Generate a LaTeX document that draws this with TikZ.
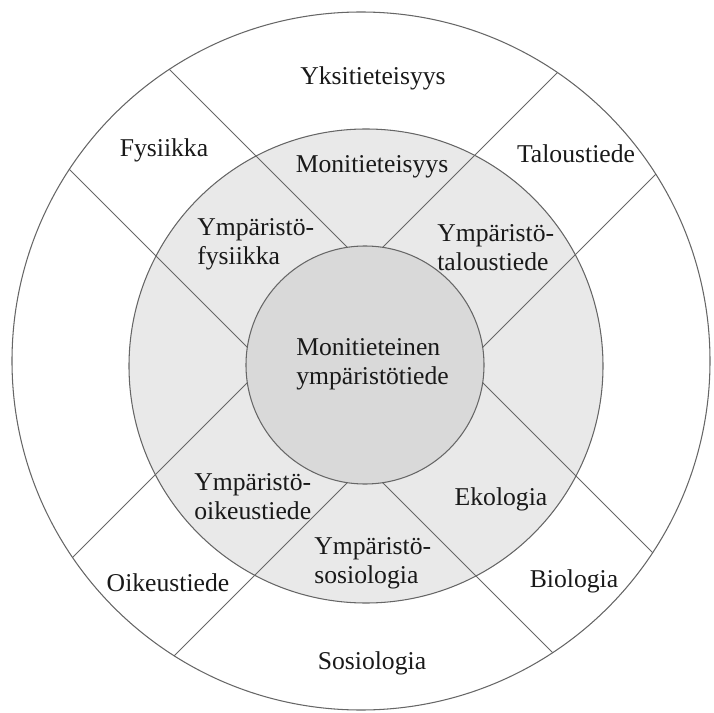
\documentclass[tikz,border=0pt]{standalone}
\usepackage{fontspec}
\setmainfont{Liberation Serif}

\tikzset{
  field/.style={font=\fontsize{14.6}{16.5}\selectfont, text=black!90, inner sep=0pt},
  twoline/.style={field, align=left, anchor=west},
  divider/.style={line width=0.6pt, draw=black!60},
}

\begin{document}
\begin{tikzpicture}[x=0.02cm, y=-0.02cm]
    \useasboundingbox (0,0) rectangle (714,713);

    % keskipisteet
    \coordinate (O) at (361,361);
    \coordinate (M) at (366,366);
    \coordinate (C) at (365,365);

    % monitieteinen vyöhyke
    \fill[gray!17] (M) circle (237);

    % jakoviivat
    \begin{scope}
        \clip (O) circle (349);
        \draw[divider] (C) ++(-450,-550) -- ++(1000,1000);
        \draw[divider] (C) ++(-550,-450) -- ++(1000,1000);
        \draw[divider] (C) ++(-550,450) -- ++(1000,-1000);
        \draw[divider] (C) ++(-450,550) -- ++(1000,-1000);
    \end{scope}

    % ympyrät
    \draw[divider] (M) circle (237);
    \filldraw[fill=gray!30, draw=black!60, line width=0.6pt] (C) circle (119);
    \draw[divider] (O) circle (349);

    % uloin kehä
    \node[field] (yksi) at (373,78) {Yksitieteisyys};
    \node[field] (fys) at (164,150) {Fysiikka};
    \node[field] (tal) at (576,154) {Taloustiede};
    \node[field] (oik) at (168,583) {Oikeustiede};
    \node[field] (bio) at (574,581) {Biologia};
    \node[field] (sos) at (372,663) {Sosiologia};

    % keskimmäinen kehä
    \node[field] (moni) at (372,167) {Monitieteisyys};
    \node[twoline] (yfys) at (197,244) {Ympäristö-\\fysiikka};
    \node[twoline] (ytal) at (437,248) {Ympäristö-\\taloustiede};
    \node[twoline] (yoik) at (194,497) {Ympäristö-\\oikeustiede};
    \node[field] (eko) at (501,499) {Ekologia};
    \node[twoline] (ysos) at (314,563) {Ympäristö-\\sosiologia};

    % keskus
    \node[twoline] (ydin) at (296,364) {Monitieteinen\\ympäristötiede};
\end{tikzpicture}
\end{document}
